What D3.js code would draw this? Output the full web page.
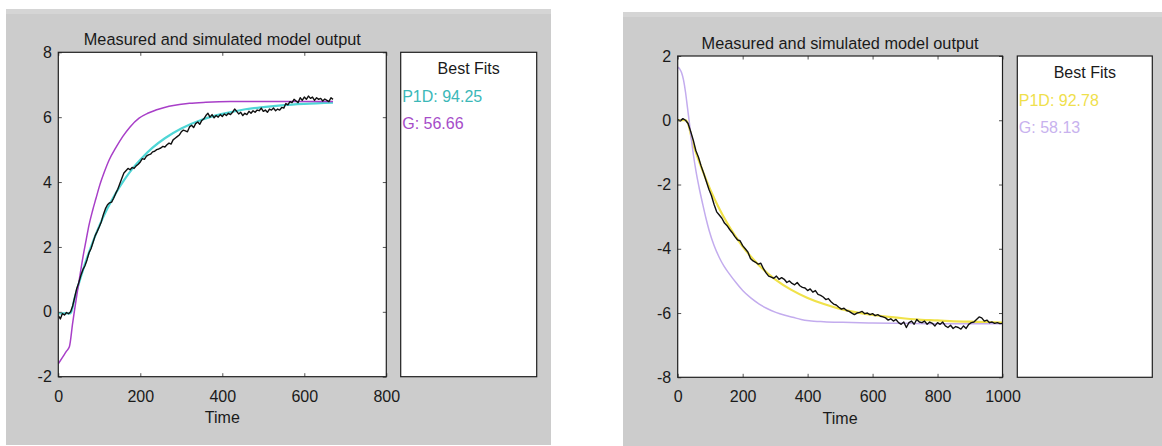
<!DOCTYPE html>
<html>
<head>
<meta charset="utf-8">
<script src="https://cdn.jsdelivr.net/npm/d3@7"></script>
<style>
  html, body { margin: 0; padding: 0; background: #ffffff; }
  svg { display: block; }
  text { font-family: "Liberation Sans", Arial, Helvetica, sans-serif; }
</style>
</head>
<body>
<svg id="fig" width="1162" height="446"></svg>
<script>
// ---------- data: first experiment (step up) ----------
const leftSampleStep = 5;
const leftMeasured = [
  -0.12,-0.22,-0.05,-0.10,-0.02,-0.06, 0.00, 0.18, 0.45, 0.72,
   0.90, 1.12, 1.30, 1.42, 1.60, 1.82, 1.95, 2.15, 2.35, 2.48,
   2.62, 2.78, 3.00, 3.18, 3.30, 3.36, 3.38, 3.50, 3.65, 3.78,
   3.95, 4.12, 4.28, 4.35, 4.42, 4.38, 4.45, 4.42, 4.50, 4.55,
   4.62, 4.72, 4.70, 4.80, 4.84, 4.86, 4.93, 4.95, 5.00, 5.02,
   5.05, 5.10, 5.08, 5.15, 5.20, 5.17, 5.30, 5.35, 5.40, 5.45,
   5.55, 5.60, 5.58, 5.55, 5.70, 5.75, 5.68, 5.80, 5.85, 5.78,
   5.90, 5.95, 6.05, 6.12, 6.00, 6.08, 5.98, 6.05, 6.00, 6.08,
   6.02, 6.10, 6.05, 6.12, 6.08, 6.15, 6.25, 6.18, 6.10, 6.15,
   6.05, 6.12, 6.08, 6.18, 6.12, 6.20, 6.15, 6.22, 6.20, 6.28,
   6.18, 6.22, 6.15, 6.25, 6.22, 6.28, 6.20, 6.25, 6.22, 6.30,
   6.28, 6.42, 6.38, 6.48, 6.45, 6.55, 6.50, 6.45, 6.60, 6.52,
   6.62, 6.55, 6.65, 6.58, 6.62, 6.52, 6.60, 6.55, 6.58, 6.50,
   6.56, 6.52, 6.48, 6.60, 6.55
];
const leftP1DTime = [0, 30, 40, 50, 60, 70, 80, 90, 100, 120, 140, 160, 180, 200, 230, 260, 300, 350, 400, 450, 500, 550, 600, 670];
const leftP1D     = [-0.05, -0.05, 0.43, 0.87, 1.28, 1.66, 2.01, 2.34, 2.65, 3.19, 3.65, 4.05, 4.40, 4.69, 5.06, 5.35, 5.65, 5.92, 6.10, 6.23, 6.31, 6.37, 6.41, 6.45];
const leftGTime = [0, 13, 20, 27, 35, 39, 45, 51, 60, 68, 75, 84, 92, 100, 112, 124, 140, 157, 175, 197, 218, 238, 270, 300, 320, 360, 420, 500, 600, 670];
const leftG     = [-1.6, -1.35, -1.21, -1.08, -0.35, 0.0, 0.5, 0.98, 1.68, 2.22, 2.68, 3.14, 3.5, 3.86, 4.3, 4.68, 5.05, 5.4, 5.7, 5.97, 6.12, 6.22, 6.34, 6.4, 6.43, 6.46, 6.48, 6.48, 6.48, 6.48];
const leftXTicks = [0, 200, 400, 600, 800];
const leftYTicks = [-2, 0, 2, 4, 6, 8];
const leftFitLabels = ["P1D: 94.25", "G: 56.66"];

// ---------- data: second experiment (step down) ----------
const rightSampleStep = 8;
const rightMeasured = [
   0.02,-0.02, 0.05, 0.00,-0.10,-0.35,-0.62,-0.95,-1.15,-1.42,
  -1.65,-1.90,-2.15,-2.35,-2.62,-2.85,-2.95,-3.05,-3.20,-3.28,
  -3.40,-3.50,-3.62,-3.72,-3.75,-3.90,-4.00,-4.10,-4.30,-4.38,
  -4.42,-4.48,-4.45,-4.62,-4.75,-4.85,-4.88,-4.92,-4.85,-4.95,
  -4.90,-4.95,-5.05,-5.00,-5.08,-5.12,-5.05,-5.15,-5.20,-5.22,
  -5.30,-5.25,-5.35,-5.30,-5.42,-5.45,-5.50,-5.58,-5.55,-5.65,
  -5.72,-5.75,-5.82,-5.88,-5.85,-5.92,-5.95,-6.00,-6.05,-6.00,
  -5.98,-5.95,-6.02,-6.00,-6.05,-6.02,-6.08,-6.05,-6.10,-6.12,
  -6.15,-6.22,-6.18,-6.25,-6.20,-6.30,-6.35,-6.28,-6.45,-6.30,
  -6.25,-6.35,-6.20,-6.28,-6.30,-6.25,-6.35,-6.28,-6.32,-6.40,
  -6.30,-6.35,-6.28,-6.40,-6.45,-6.38,-6.48,-6.42,-6.45,-6.50,
  -6.40,-6.48,-6.35,-6.30,-6.28,-6.20,-6.12,-6.15,-6.25,-6.22,
  -6.30,-6.28,-6.32,-6.30,-6.33,-6.32
];
const rightP1DTime = [0, 25, 50, 75, 100, 125, 150, 175, 200, 250, 300, 350, 400, 450, 500, 550, 600, 650, 700, 750, 800, 850, 900, 1000];
const rightP1D     = [0, 0, -0.82, -1.53, -2.15, -2.69, -3.16, -3.57, -3.93, -4.51, -4.95, -5.28, -5.53, -5.72, -5.87, -5.98, -6.06, -6.12, -6.17, -6.21, -6.23, -6.26, -6.27, -6.3];
const rightGTime = [0, 6, 12, 18, 24, 30, 36, 41, 48, 56, 66, 77, 87, 97, 112, 128, 143, 159, 180, 200, 225, 251, 275, 302, 330, 354, 380, 405, 450, 508, 600, 700, 800, 1000];
const rightG     = [1.65, 1.6, 1.48, 1.25, 0.88, 0.4, -0.08, -0.5, -1.05, -1.57, -2.1, -2.61, -3.05, -3.44, -3.9, -4.27, -4.55, -4.78, -5.06, -5.3, -5.53, -5.72, -5.86, -5.98, -6.07, -6.13, -6.2, -6.24, -6.27, -6.29, -6.31, -6.32, -6.33, -6.33];
const rightXTicks = [0, 200, 400, 600, 800, 1000];
const rightYTicks = [-8, -6, -4, -2, 0, 2];
const rightFitLabels = ["P1D: 92.78", "G: 58.13"];

const titleText = "Measured and simulated model output";
const legendTitle = "Best Fits";
const xLabel = "Time";

// ---------- drawing ----------
const svg = d3.select("#fig");
const FONT = 16;
const plainNumber = d => String(d);   // ASCII hyphen for negatives

function zip(ts, vs) { return vs.map((v, i) => [ts[i], v]); }
function sampled(step, vs) { return vs.map((v, i) => [i * step, v]); }

function drawFigure(cfg, idx) {
  const g = svg.append("g").attr("class", "figure-" + idx);

  // grey figure background with a slightly lighter top strip
  g.append("rect")
    .attr("x", cfg.bg[0]).attr("y", cfg.bg[1])
    .attr("width", cfg.bg[2] - cfg.bg[0]).attr("height", cfg.bg[3] - cfg.bg[1])
    .attr("fill", "#cccccc");
  g.append("rect")
    .attr("x", cfg.bg[0]).attr("y", cfg.bg[1])
    .attr("width", cfg.bg[2] - cfg.bg[0]).attr("height", 5)
    .attr("fill", "#d5d5d5");

  const p = cfg.plot;
  const x = d3.scaleLinear().domain(cfg.xDomain).range([p.x0, p.x1]);
  const y = d3.scaleLinear().domain(cfg.yDomain).range([p.y1, p.y0]);

  // axes area
  g.append("rect")
    .attr("x", p.x0).attr("y", p.y0)
    .attr("width", p.x1 - p.x0).attr("height", p.y1 - p.y0)
    .attr("fill", "#ffffff");

  const clipId = "clip-" + idx;
  g.append("clipPath").attr("id", clipId)
    .append("rect")
    .attr("x", p.x0).attr("y", p.y0)
    .attr("width", p.x1 - p.x0).attr("height", p.y1 - p.y0);

  const lines = g.append("g").attr("clip-path", `url(#${clipId})`);
  const smooth = d3.line().x(d => x(d[0])).y(d => y(d[1])).curve(d3.curveMonotoneX);
  const raw = d3.line().x(d => x(d[0])).y(d => y(d[1]));

  lines.append("path").datum(zip(cfg.p1dTime, cfg.p1d))
    .attr("d", smooth).attr("fill", "none")
    .attr("stroke", cfg.p1dColor).attr("stroke-width", 2.2);
  lines.append("path").datum(zip(cfg.gTime, cfg.g))
    .attr("d", smooth).attr("fill", "none")
    .attr("stroke", cfg.gColor).attr("stroke-width", 1.5);
  lines.append("path").datum(sampled(cfg.step, cfg.measured))
    .attr("d", raw).attr("fill", "none")
    .attr("stroke", "#111111").attr("stroke-width", 1.4)
    .attr("stroke-linejoin", "round");

  // axes with inward ticks on all four sides
  const tick = 3.5;
  const axB = g.append("g").attr("transform", `translate(0,${p.y1})`)
    .call(d3.axisBottom(x).tickValues(cfg.xTicks).tickFormat(plainNumber)
      .tickSizeInner(-tick).tickSizeOuter(0).tickPadding(13.5));
  const axL = g.append("g").attr("transform", `translate(${p.x0},0)`)
    .call(d3.axisLeft(y).tickValues(cfg.yTicks).tickFormat(plainNumber)
      .tickSizeInner(-tick).tickSizeOuter(0).tickPadding(6.5));
  const axT = g.append("g").attr("transform", `translate(0,${p.y0})`)
    .call(d3.axisTop(x).tickValues(cfg.xTicks).tickFormat("")
      .tickSizeInner(-tick).tickSizeOuter(0));
  const axR = g.append("g").attr("transform", `translate(${p.x1},0)`)
    .call(d3.axisRight(y).tickValues(cfg.yTicks).tickFormat("")
      .tickSizeInner(-tick).tickSizeOuter(0));
  [axB, axL, axT, axR].forEach(a => {
    a.select(".domain").remove();
    a.selectAll(".tick line").attr("stroke", "#555555").attr("stroke-width", 1);
    a.selectAll(".tick text").attr("fill", "#1a1a1a").attr("font-size", FONT)
      .attr("font-family", "'Liberation Sans', Arial, sans-serif");
  });

  g.append("rect")
    .attr("x", p.x0).attr("y", p.y0)
    .attr("width", p.x1 - p.x0).attr("height", p.y1 - p.y0)
    .attr("fill", "none").attr("stroke", "#1e1e1e").attr("stroke-width", 1.2);

  // title and x label
  g.append("text")
    .attr("x", (p.x0 + p.x1) / 2).attr("y", p.y0 - 7)
    .attr("text-anchor", "middle").attr("font-size", 16.3).attr("fill", "#1a1a1a")
    .text(titleText);
  g.append("text")
    .attr("x", (p.x0 + p.x1) / 2).attr("y", p.y1 + 46.5)
    .attr("text-anchor", "middle").attr("font-size", FONT).attr("fill", "#1a1a1a")
    .text(xLabel);

  // fit summary box
  const L = cfg.legend;
  g.append("rect")
    .attr("x", L.x0).attr("y", p.y0)
    .attr("width", L.x1 - L.x0).attr("height", p.y1 - p.y0)
    .attr("fill", "#ffffff").attr("stroke", "#1e1e1e").attr("stroke-width", 1.2);
  g.append("text")
    .attr("x", (L.x0 + L.x1) / 2).attr("y", p.y0 + 22)
    .attr("text-anchor", "middle").attr("font-size", FONT).attr("fill", "#1a1a1a")
    .text(legendTitle);
  g.selectAll("text.fit").data(cfg.labels).join("text")
    .attr("class", "fit")
    .attr("x", L.x0 + 1.5)
    .attr("y", (d, i) => p.y0 + 50 + i * 27)
    .attr("font-size", FONT)
    .attr("fill", (d, i) => i === 0 ? cfg.p1dText : cfg.gText)
    .text(d => d);
}

drawFigure({
  bg: [6, 9, 551, 445],
  plot: { x0: 58.3, x1: 386.3, y0: 52.3, y1: 376.7 },
  legend: { x0: 400.7, x1: 536.7 },
  xDomain: [0, 800], yDomain: [-2, 8],
  xTicks: leftXTicks, yTicks: leftYTicks,
  step: leftSampleStep, measured: leftMeasured,
  p1dTime: leftP1DTime, p1d: leftP1D,
  gTime: leftGTime, g: leftG,
  p1dColor: "#4fd6d6", gColor: "#a83fc8",
  p1dText: "#3bb8b8", gText: "#a64cc9",
  labels: leftFitLabels
}, 0);

drawFigure({
  bg: [623, 12, 1162, 446],
  plot: { x0: 677.7, x1: 1002.5, y0: 56, y1: 377.3 },
  legend: { x0: 1017.3, x1: 1152.3 },
  xDomain: [0, 1000], yDomain: [-8, 2],
  xTicks: rightXTicks, yTicks: rightYTicks,
  step: rightSampleStep, measured: rightMeasured,
  p1dTime: rightP1DTime, p1d: rightP1D,
  gTime: rightGTime, g: rightG,
  p1dColor: "#f0e24a", gColor: "#c3acee",
  p1dText: "#efe04c", gText: "#c8b2ee",
  labels: rightFitLabels
}, 1);
</script>
</body>
</html>
